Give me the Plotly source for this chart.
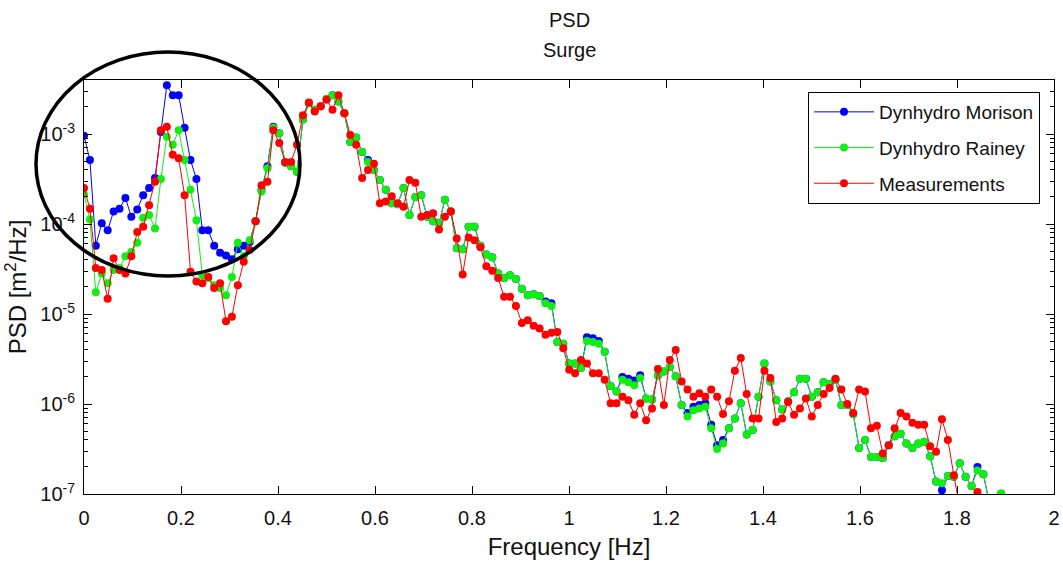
import plotly.graph_objects as go

# Frequency grid of the PSD estimate (uniform FFT bins, step)
freq_step = 0.0122

psd_morison = [
    9.55e-4, 5.13e-4, 5.75e-5, 1.02e-4, 8.51e-5, 1.38e-4, 1.48e-4, 1.95e-4, 1.20e-4, 1.45e-4,
    2.09e-4, 2.51e-4, 3.24e-4, 1.05e-3, 3.47e-3, 2.69e-3, 2.69e-3, 1.17e-3, 5.13e-4, 3.16e-4,
    8.51e-5, 8.51e-5, 5.75e-5, 4.79e-5, 4.47e-5, 4.07e-5, 5.25e-5, 5.75e-5, 6.31e-5, 1.07e-4,
    2.40e-4, 4.37e-4, 1.20e-3, 1.02e-3, 4.79e-4, 4.37e-4, 3.80e-4, 1.45e-3, 2.19e-3, 1.86e-3,
    2.04e-3, 2.45e-3, 2.69e-3, 2.29e-3, 1.70e-3, 8.13e-4, 9.12e-4, 6.31e-4, 5.13e-4, 3.98e-4,
    3.09e-4, 2.40e-4, 1.70e-4, 1.66e-4, 2.51e-4, 1.26e-4, 2.00e-4, 2.09e-4, 1.20e-4, 1.07e-4,
    1.02e-4, 1.86e-4, 1.38e-4, 5.37e-5, 5.25e-5, 9.33e-5, 9.33e-5, 5.75e-5, 4.57e-5, 4.27e-5,
    2.82e-5, 2.51e-5, 2.69e-5, 2.45e-5, 1.91e-5, 1.62e-5, 1.66e-5, 1.58e-5, 1.38e-5, 1.32e-5,
    4.90e-6, 4.68e-6, 2.82e-6, 2.82e-6, 2.51e-6, 5.50e-6, 5.37e-6, 5.01e-6, 3.80e-6, 1.58e-6,
    1.38e-6, 2.00e-6, 1.91e-6, 1.82e-6, 2.09e-6, 1.15e-6, 1.12e-6, 2.09e-6, 2.29e-6, 2.57e-6,
    2.04e-6, 9.77e-7, 7.94e-7, 9.33e-7, 9.77e-7, 1.02e-6, 5.89e-7, 3.47e-7, 3.98e-7, 5.37e-7,
    6.92e-7, 1.02e-6, 4.57e-7, 5.13e-7, 1.20e-6, 2.82e-6, 1.78e-6, 1.10e-6, 8.71e-7, 1.07e-6,
    1.35e-6, 1.91e-6, 1.91e-6, 1.20e-6, 1.35e-6, 1.74e-6, 1.66e-6, 1.86e-6, 9.77e-7, 9.77e-7,
    7.76e-7, 3.24e-7, 3.98e-7, 2.57e-7, 2.57e-7, 2.51e-7, 3.47e-7, 4.37e-7, 4.68e-7, 3.63e-7,
    3.24e-7, 3.63e-7, 3.80e-7, 2.63e-7, 1.38e-7, 1.10e-7, 1.58e-7, 1.55e-7, 2.19e-7, 1.55e-7,
    1.23e-7, 2.00e-7, 1.66e-7, 7.94e-8, 7.08e-8, 1.00e-7,
]

psd_rainey = [
    2.14e-4, 1.12e-4, 1.74e-5, 2.82e-5, 2.19e-5, 3.09e-5, 3.24e-5, 4.37e-5, 4.90e-5, 6.17e-5,
    1.17e-4, 1.26e-4, 8.91e-5, 3.16e-4, 9.33e-4, 7.59e-4, 1.10e-3, 5.13e-4, 2.40e-4, 1.10e-4,
    2.69e-5, 2.51e-5, 2.09e-5, 1.95e-5, 1.62e-5, 2.57e-5, 6.17e-5, 4.37e-5, 6.61e-5, 1.07e-4,
    2.29e-4, 4.17e-4, 1.17e-3, 1.02e-3, 4.79e-4, 4.37e-4, 3.80e-4, 1.45e-3, 2.19e-3, 1.86e-3,
    2.04e-3, 2.45e-3, 2.69e-3, 2.29e-3, 1.70e-3, 8.13e-4, 9.12e-4, 6.31e-4, 4.90e-4, 3.98e-4,
    3.09e-4, 2.40e-4, 1.70e-4, 1.66e-4, 2.51e-4, 1.26e-4, 2.00e-4, 2.09e-4, 1.20e-4, 1.07e-4,
    1.02e-4, 1.86e-4, 1.38e-4, 5.37e-5, 5.25e-5, 9.33e-5, 9.33e-5, 5.75e-5, 4.57e-5, 4.27e-5,
    2.82e-5, 2.51e-5, 2.69e-5, 2.45e-5, 1.91e-5, 1.62e-5, 1.66e-5, 1.58e-5, 1.32e-5, 1.23e-5,
    4.90e-6, 4.68e-6, 2.82e-6, 2.82e-6, 2.51e-6, 5.01e-6, 4.90e-6, 4.68e-6, 3.80e-6, 1.58e-6,
    1.38e-6, 1.86e-6, 1.74e-6, 1.62e-6, 1.95e-6, 1.15e-6, 1.12e-6, 2.09e-6, 2.29e-6, 2.57e-6,
    2.04e-6, 9.77e-7, 7.24e-7, 8.51e-7, 8.91e-7, 9.33e-7, 5.37e-7, 3.16e-7, 3.63e-7, 5.37e-7,
    6.92e-7, 1.02e-6, 4.57e-7, 5.13e-7, 1.20e-6, 2.82e-6, 1.78e-6, 1.10e-6, 8.71e-7, 1.07e-6,
    1.35e-6, 1.91e-6, 1.91e-6, 1.20e-6, 1.35e-6, 1.74e-6, 1.66e-6, 1.86e-6, 9.77e-7, 9.77e-7,
    7.76e-7, 3.24e-7, 3.98e-7, 2.57e-7, 2.57e-7, 2.51e-7, 3.47e-7, 4.37e-7, 4.68e-7, 3.63e-7,
    3.24e-7, 3.63e-7, 3.80e-7, 2.63e-7, 1.38e-7, 1.32e-7, 1.58e-7, 1.55e-7, 2.19e-7, 1.55e-7,
    1.23e-7, 1.82e-7, 1.66e-7, 7.94e-8, 7.08e-8, 1.02e-7,
]

psd_measured = [
    2.51e-4, 1.48e-4, 3.24e-5, 3.09e-5, 1.48e-5, 4.17e-5, 3.09e-5, 2.82e-5, 4.37e-5, 8.13e-5,
    9.33e-5, 1.62e-4, 2.95e-4, 1.10e-3, 1.20e-3, 5.89e-4, 5.37e-4, 2.09e-4, 2.95e-5, 2.29e-5,
    2.19e-5, 2.57e-5, 1.95e-5, 2.19e-5, 8.32e-6, 9.33e-6, 2.09e-5, 3.80e-5, 5.13e-5, 1.07e-4,
    2.69e-4, 2.95e-4, 1.10e-3, 7.94e-4, 4.90e-4, 4.90e-4, 7.59e-4, 1.62e-3, 2.24e-3, 1.78e-3,
    2.04e-3, 2.40e-3, 1.86e-3, 2.69e-3, 1.70e-3, 9.77e-4, 7.59e-4, 3.24e-4, 3.98e-4, 4.68e-4,
    1.70e-4, 1.78e-4, 2.04e-4, 1.70e-4, 1.55e-4, 3.09e-4, 2.88e-4, 1.20e-4, 1.26e-4, 1.32e-4,
    8.71e-5, 1.20e-4, 1.38e-4, 6.92e-5, 2.75e-5, 7.08e-5, 6.61e-5, 5.50e-5, 3.39e-5, 3.02e-5,
    2.51e-5, 1.55e-5, 1.55e-5, 1.23e-5, 7.94e-6, 8.51e-6, 7.41e-6, 6.92e-6, 5.89e-6, 6.17e-6,
    6.31e-6, 4.17e-6, 2.40e-6, 2.19e-6, 3.09e-6, 2.82e-6, 2.19e-6, 2.19e-6, 1.86e-6, 1.02e-6,
    1.02e-6, 1.20e-6, 1.10e-6, 7.59e-7, 1.02e-6, 6.61e-7, 8.91e-7, 2.45e-6, 9.77e-7, 3.09e-6,
    3.98e-6, 1.78e-6, 1.45e-6, 1.20e-6, 1.32e-6, 1.20e-6, 1.45e-6, 1.20e-6, 7.76e-7, 1.07e-6,
    2.34e-6, 3.24e-6, 1.29e-6, 6.92e-7, 6.92e-7, 2.34e-6, 1.95e-6, 6.31e-7, 6.92e-7, 1.05e-6,
    7.59e-7, 8.91e-7, 1.15e-6, 7.24e-7, 9.77e-7, 1.29e-6, 1.51e-6, 1.91e-6, 1.45e-6, 1.00e-6,
    7.94e-7, 1.45e-6, 1.38e-6, 5.37e-7, 5.75e-7, 2.82e-7, 3.47e-7, 5.37e-7, 7.94e-7, 7.24e-7,
    6.17e-7, 5.89e-7, 5.89e-7, 3.39e-7, 2.95e-7, 6.76e-7, 3.98e-7, 1.62e-7, 7.08e-8, 5.62e-8,
    7.94e-8, 1.05e-7, 6.31e-8,
]

series_names = ["Dynhydro Morison", "Dynhydro Rainey", "Measurements"]
series_values = [psd_morison, psd_rainey, psd_measured]
series_colors = ["#0000FF", "#11EE11", "#FF0000"]

x_tick_vals = [0, 0.2, 0.4, 0.6, 0.8, 1.0, 1.2, 1.4, 1.6, 1.8, 2.0]
x_tick_text = ["0", "0.2", "0.4", "0.6", "0.8", "1", "1.2", "1.4", "1.6", "1.8", "2"]
y_tick_vals = [1e-7, 1e-6, 1e-5, 1e-4, 1e-3]
y_tick_text = ["10<sup>-7</sup>", "10<sup>-6</sup>", "10<sup>-5</sup>", "10<sup>-4</sup>", "10<sup>-3</sup>"]
y_minor_vals = [m * d for d in (1e-7, 1e-6, 1e-5, 1e-4, 1e-3) for m in range(2, 10)]

FONT = "Liberation Sans, Arial, sans-serif"
W, H = 1063, 565
ML, MR, MT, MB = 84, 9, 80, 71
plot_h = H - MT - MB
plot_w = W - ML - MR

fig = go.Figure()
for name, vals, col in zip(series_names, series_values, series_colors):
    freqs = [round(i * freq_step, 5) for i in range(len(vals))]
    fig.add_trace(go.Scatter(
        x=freqs, y=vals, name=name, legendgroup=name, mode="lines+markers",
        line=dict(color=col, width=1),
        marker=dict(color=col, size=8, line=dict(width=0)),
    ))

fig.update_layout(
    width=W, height=H,
    paper_bgcolor="white", plot_bgcolor="white",
    margin=dict(l=ML, r=MR, t=MT, b=MB, autoexpand=False),
    font=dict(family=FONT, size=20, color="#111111"),
    showlegend=True,
    legend=dict(
        x=(808 - ML) / plot_w, y=(H - MB - 92) / plot_h, xanchor="left", yanchor="top",
        bgcolor="white", bordercolor="black", borderwidth=1,
        font=dict(family=FONT, size=19, color="#111111"),
        tracegroupgap=8, itemwidth=60,
    ),
    annotations=[
        dict(text="PSD", x=0.5, y=(H - MB - 20) / plot_h, xref="paper", yref="paper",
             yanchor="middle", showarrow=False, font=dict(size=20)),
        dict(text="Surge", x=0.5, y=(H - MB - 50) / plot_h, xref="paper", yref="paper",
             yanchor="middle", showarrow=False, font=dict(size=20)),
    ],
)

fig.update_xaxes(
    range=[0, 2], tickvals=x_tick_vals, ticktext=x_tick_text, automargin=False,
    ticklabeloverflow="allow",
    ticks="inside", ticklen=8, tickcolor="black", ticklabelstandoff=6,
    showline=True, linecolor="black", linewidth=1, mirror="allticks",
    showgrid=False, zeroline=False,
    title=dict(text="Frequency [Hz]", standoff=10),
)
fig.update_yaxes(
    type="log", range=[-7, -2.4], tickvals=y_tick_vals, ticktext=y_tick_text, automargin=False,
    ticks="inside", ticklen=8, tickcolor="black", ticklabelstandoff=4,
    minor=dict(tickvals=y_minor_vals, ticks="inside", ticklen=4, tickcolor="black", showgrid=False),
    showline=True, linecolor="black", linewidth=1, mirror="allticks",
    showgrid=False, zeroline=False,
    title=dict(text="PSD [m<sup>2</sup>/Hz]", standoff=6),
)

# hand-drawn circle highlighting the low-frequency region
fig.add_shape(
    type="circle", xref="paper", yref="paper",
    x0=(36 - ML) / plot_w, x1=(300 - ML) / plot_w,
    y0=(H - MB - 276) / plot_h, y1=(H - MB - 52) / plot_h,
    line=dict(color="black", width=3.5), layer="above",
)

fig.write_html(
    "out.html",
    config={"displayModeBar": False},
    post_script="document.body.style.margin='0';document.body.style.overflow='hidden';",
)
